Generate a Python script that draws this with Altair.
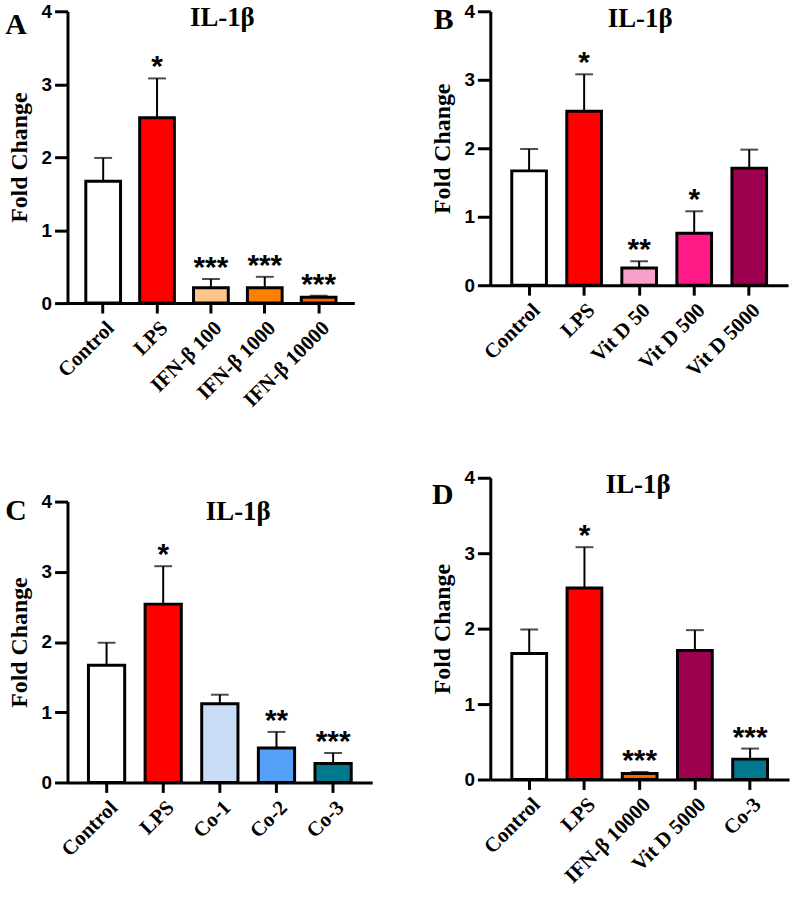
import altair as alt
import pandas as pd

SERIF = "Liberation Serif"
SANS = "Liberation Sans"

# ---------------- data ----------------
a_cats = ["Control", "LPS", "IFN-β 100", "IFN-β 1000", "IFN-β 10000"]
a_means = [1.67, 2.54, 0.21, 0.21, 0.08]
a_errs = [1.99, 3.08, 0.33, 0.36, 0.10]
a_stars = ["", "*", "***", "***", "***"]
a_colors = ["#ffffff", "#ff0000", "#ffc48c", "#ff8000", "#ff6400"]

b_cats = ["Control", "LPS", "Vit D 50", "Vit D 500", "Vit D 5000"]
b_means = [1.67, 2.54, 0.25, 0.76, 1.71]
b_errs = [1.99, 3.08, 0.35, 1.08, 1.98]
b_stars = ["", "*", "**", "*", ""]
b_colors = ["#ffffff", "#ff0000", "#f8a0c8", "#ff1a86", "#9c004f"]

c_cats = ["Control", "LPS", "Co-1", "Co-2", "Co-3"]
c_means = [1.67, 2.54, 1.12, 0.49, 0.27]
c_errs = [1.99, 3.08, 1.25, 0.72, 0.42]
c_stars = ["", "*", "", "**", "***"]
c_colors = ["#ffffff", "#ff0000", "#c9ddf6", "#55a1f9", "#00798f"]

d_cats = ["Control", "LPS", "IFN-β 10000", "Vit D 5000", "Co-3"]
d_means = [1.67, 2.54, 0.08, 1.71, 0.27]
d_errs = [1.99, 3.08, 0.10, 1.98, 0.41]
d_stars = ["", "*", "***", "", "***"]
d_colors = ["#ffffff", "#ff0000", "#ff6400", "#9c004f", "#00798f"]

panel_letters = ["A", "B", "C", "D"]
panel_title = "IL-1β"
y_title = "Fold Change"
y_ticks = [0, 1, 2, 3, 4]


def panel(letter, cats, means, errs, stars, colors, width, height, pi, po,
          tx, ty, lx, ly):
    df = pd.DataFrame({"cat": cats, "mean": means, "err": errs,
                       "star": stars, "color": colors})
    xscale = alt.Scale(paddingInner=pi, paddingOuter=po)
    xaxis = alt.Axis(title=None, labelAngle=-45, labelFont=SERIF,
                     labelFontWeight="bold", labelFontSize=21,
                     labelColor="black", tickSize=10, tickWidth=3,
                     tickColor="black", domainWidth=3, domainColor="black",
                     labelPadding=4)
    yscale = alt.Scale(domain=[0, 4], nice=False)
    yaxis = alt.Axis(title=y_title, values=y_ticks, format="d",
                     titleFont=SERIF, titleFontWeight="bold",
                     titleFontSize=24, titleColor="black", titlePadding=10,
                     labelFont=SANS, labelFontWeight="bold", labelFontSize=19,
                     labelColor="black", labelPadding=3, tickSize=13,
                     tickWidth=3, tickColor="black", domainWidth=3,
                     domainColor="black")
    x = alt.X("cat:N", sort=cats, scale=xscale, axis=xaxis)
    base = alt.Chart(df)
    rule = base.mark_rule(strokeWidth=2, color="black").encode(
        x=x, y=alt.Y("mean:Q", scale=yscale, axis=yaxis), y2="err:Q")
    cap = base.mark_tick(size=18, thickness=2, color="black").encode(
        x=x, y=alt.Y("err:Q", scale=yscale, axis=yaxis))
    bars = base.mark_bar(stroke="black", strokeWidth=3).encode(
        x=x, y=alt.Y("mean:Q", scale=yscale, axis=yaxis),
        fill=alt.Fill("color:N", scale=None))
    star = base.mark_text(font=SANS, fontWeight="bold", fontSize=30,
                          baseline="alphabetic", dy=-2, color="black").encode(
        x=x, y=alt.Y("err:Q", scale=yscale, axis=yaxis), text="star:N")
    ttl = alt.Chart(pd.DataFrame({"t": [panel_title]})).mark_text(
        font=SERIF, fontWeight="bold", fontSize=27, baseline="middle",
        align="center", color="black").encode(
        x=alt.value(tx), y=alt.value(ty), text="t:N")
    let = alt.Chart(pd.DataFrame({"t": [letter]})).mark_text(
        font=SERIF, fontWeight="bold", fontSize=30, baseline="middle",
        align="center", color="black").encode(
        x=alt.value(lx), y=alt.value(ly), text="t:N")
    return alt.layer(rule, cap, bars, star, ttl, let).properties(
        width=width, height=height)


pa = panel(panel_letters[0], a_cats, a_means, a_errs, a_stars, a_colors,
           289, 294, 0.355, 0.34, 156, 7, -52, 14)
pb = panel(panel_letters[1], b_cats, b_means, b_errs, b_stars, b_colors,
           300, 276, 0.37, 0.39, 151, 8, -47, 9)
pc = panel(panel_letters[2], c_cats, c_means, c_errs, c_stars, c_colors,
           307, 283, 0.36, 0.37, 172, 11, -52, 10)
pd_ = panel(panel_letters[3], d_cats, d_means, d_errs, d_stars, d_colors,
            301, 304, 0.37, 0.39, 149, 7, -48, 17)

left = alt.vconcat(pa, pc, spacing=82)
right = alt.vconcat(pb, pd_, spacing=89)
chart = alt.hconcat(left, right, spacing=58).properties(
    padding={"left": 5, "top": -1, "right": 5, "bottom": 5}
).configure_view(stroke=None).configure_axis(grid=False)

chart.save("out.html", embed_options={"renderer": "svg", "actions": False})
